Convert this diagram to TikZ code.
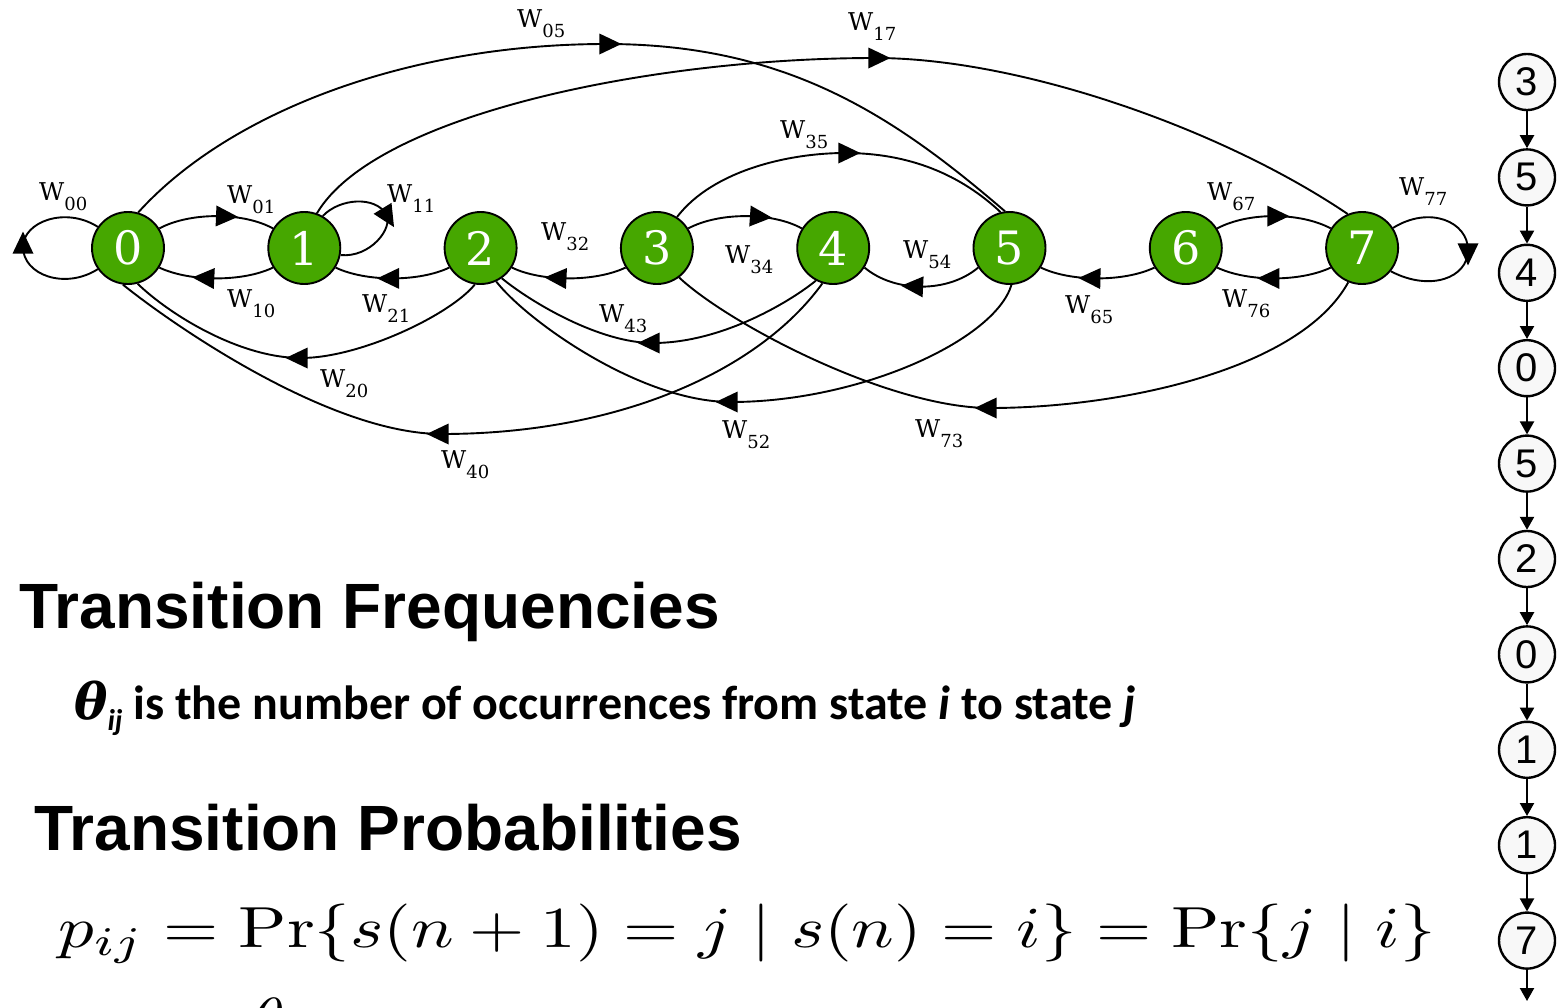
\documentclass[tikz,border=0pt]{standalone}
\usepackage{fontspec}
\usepackage{graphicx}
\usetikzlibrary{shapes.geometric,arrows.meta}
\newfontfamily\nodefont{DejaVu Serif}
\newfontfamily\headfont{Liberation Sans}
\newfontfamily\bodyfont{Carlito}
\definecolor{stategreen}{RGB}{70,167,0}
\definecolor{chainfill}{RGB}{248,248,248}
\newcommand\wlab[1]{W\raisebox{-10pt}{\fontsize{18}{18}\selectfont #1}}
\tikzset{
  statenode/.style={circle, draw=black, line width=1.9pt, fill=stategreen, minimum size=72pt, inner sep=0pt, text=white, font=\nodefont\fontsize{46}{46}\selectfont},
  conn/.style={draw=black, line width=1.9pt},
  tri/.style={isosceles triangle, isosceles triangle stretches, fill=black, draw=none, inner sep=0pt, minimum width=21pt, minimum height=22pt, sloped, allow upside down, anchor=center},
  wlabel/.style={anchor=base west, inner sep=0pt, font=\nodefont\fontsize{24.5}{24.5}\selectfont},
  chainnode/.style={circle, draw=black, line width=2.4pt, fill=chainfill, minimum size=56pt, inner sep=0pt, font=\headfont\fontsize{40}{40}\selectfont},
  chainarrow/.style={draw=black, line width=2.2pt, -{Triangle[length=13pt,width=14pt]}},
  headtext/.style={anchor=base west, inner sep=0pt, font=\headfont\bfseries\fontsize{64}{64}\selectfont},
}
\begin{document}
\begin{tikzpicture}[x=1pt,y=-1pt]
\fill[white] (0,0) rectangle (1564,1007);
\useasboundingbox (0,0) rectangle (1564,1007);

% states
\node[statenode] (n0) at (128,248) {0};
\node[statenode] (n1) at (304.3,248) {1};
\node[statenode] (n2) at (480.6,248) {2};
\node[statenode] (n3) at (656.9,248) {3};
\node[statenode] (n4) at (833.2,248) {4};
\node[statenode] (n5) at (1009.5,248) {5};
\node[statenode] (n6) at (1185.8,248) {6};
\node[statenode] (n7) at (1362.1,248) {7};

% neighbour arcs
\draw[conn] (n0.32) .. controls (190,212) and (243,212) .. (n1.148) node[tri,pos=0.55]{};
\draw[conn] (n1.212) .. controls (243,282) and (190,282) .. (n0.328) node[tri,pos=0.57]{};
\draw[conn] (n2.212) .. controls (419,282) and (366,282) .. (n1.328) node[tri,pos=0.5]{};
\draw[conn] (n3.212) .. controls (595,282) and (542,282) .. (n2.328) node[tri,pos=0.57]{};
\draw[conn] (n3.32) .. controls (719,212) and (772,212) .. (n4.148) node[tri,pos=0.59]{};
\draw[conn] (n5.212) .. controls (948,293) and (895,293) .. (n4.328) node[tri,pos=0.54]{};
\draw[conn] (n6.212) .. controls (1124,282) and (1071,282) .. (n5.328) node[tri,pos=0.53]{};
\draw[conn] (n6.32) .. controls (1248,212) and (1300,212) .. (n7.148) node[tri,pos=0.5]{};
\draw[conn] (n7.212) .. controls (1300,282) and (1248,282) .. (n6.328) node[tri,pos=0.51]{};

% long arcs
\draw[conn] (n0.74) .. controls (228,113) and (406,44) .. (606,44) node[tri,pos=1]{}
  .. controls (786,44) and (893,115) .. (n5.97);
\draw[conn] (n1.70) .. controls (375,115) and (650,58) .. (875,58) node[tri,pos=1]{}
  .. controls (1020,58) and (1222,129) .. (n7.113);
\draw[conn] (n3.57) .. controls (713,170) and (790,153) .. (845,153) node[tri,pos=1]{}
  .. controls (910,153) and (961,175) .. (n5.104);
\draw[conn] (n2.261) .. controls (450,315) and (360,358) .. (301,358) node[tri,pos=1]{}
  .. controls (240,358) and (170,315) .. (n0.285);
\draw[conn] (n4.253) .. controls (760,370) and (620,434) .. (442,434) node[tri,pos=1]{}
  .. controls (330,434) and (173,325) .. (n0.262);
\draw[conn] (n4.242) .. controls (795,298) and (725,343) .. (653,343) node[tri,pos=1]{}
  .. controls (600,343) and (532,303) .. (n2.305);
\draw[conn] (n5.273) .. controls (995,340) and (860,402) .. (731,402) node[tri,pos=1]{}
  .. controls (640,402) and (526,320) .. (n2.295);
\draw[conn] (n7.248) .. controls (1300,370) and (1120,408) .. (990,408) node[tri,pos=1]{}
  .. controls (890,408) and (730,325) .. (n3.307);

% self loops
\draw[conn] (n0.215) .. controls (65,290) and (23,275) .. (23,247) node[tri,pos=1]{}
  .. controls (23,222) and (65,206) .. (n0.145);
\draw[conn] (n1.60) .. controls (340,198) and (375,196) .. (386,214) node[tri,pos=1]{}
  .. controls (394,228) and (370,258) .. (n1.349);
\draw[conn] (n7.33) .. controls (1430,205) and (1468,222) .. (1468,250) node[tri,pos=1]{}
  .. controls (1468,278) and (1430,292) .. (n7.321);

% weight labels
\node[wlabel] (l00) at (39,200) {\wlab{00}};
\node[wlabel] (l01) at (227,203) {\wlab{01}};
\node[wlabel] (l11) at (387,202) {\wlab{11}};
\node[wlabel] (l10) at (227,307) {\wlab{10}};
\node[wlabel] (l21) at (362,312) {\wlab{21}};
\node[wlabel] (l20) at (320,387) {\wlab{20}};
\node[wlabel] (l40) at (441,468) {\wlab{40}};
\node[wlabel] (l32) at (541,240) {\wlab{32}};
\node[wlabel] (l34) at (725,263) {\wlab{34}};
\node[wlabel] (l35) at (780,138) {\wlab{35}};
\node[wlabel] (l54) at (903,258) {\wlab{54}};
\node[wlabel] (l05) at (517,27) {\wlab{05}};
\node[wlabel] (l17) at (848,30) {\wlab{17}};
\node[wlabel] (l43) at (599,322) {\wlab{43}};
\node[wlabel] (l52) at (722,438) {\wlab{52}};
\node[wlabel] (l73) at (915,437) {\wlab{73}};
\node[wlabel] (l67) at (1207,200) {\wlab{67}};
\node[wlabel] (l77) at (1399,195) {\wlab{77}};
\node[wlabel] (l65) at (1065,313) {\wlab{65}};
\node[wlabel] (l76) at (1222,307) {\wlab{76}};

% state sequence
\foreach \d [count=\k from 0] in {3,5,4,0,5,2,0,1,1,7}
  \node[chainnode] (c\k) at (1527,{82+95.4*\k}) {\d};
\foreach \a/\b in {0/1,1/2,2/3,3/4,4/5,5/6,6/7,7/8,8/9}
  \draw[chainarrow] (c\a) -- (c\b);
\coordinate (cend) at (1527,1001);
\draw[chainarrow] (c9) -- (cend);

% texts
\node[headtext] (tf) at (19,628) {Transition Frequencies};
\node[headtext] (tp) at (34,850) {Transition Probabilities};
\node[anchor=base west, inner sep=0pt, font=\bodyfont\bfseries\fontsize{48}{48}\selectfont] (th) at (74,719)
  {{\nodefont\bfseries\itshape\fontsize{50}{50}\selectfont θ}{\itshape\raisebox{-11pt}{\fontsize{30}{30}\selectfont ij}} is the number of occurrences from state \textit{i} to state \textit{j}};
\node[anchor=base west, inner sep=0pt] (pf) at (58,947)
  {\resizebox{1377pt}{43.5pt}{$p_{ij} = \Pr\{s(n+1) = j \mid s(n) = i\} = \Pr\{j \mid i\}$}};
\node[anchor=north west, inner sep=0pt] (thb) at (251,998) {\scalebox{6.8}[5.8]{$\theta$}};
\end{tikzpicture}
\end{document}
